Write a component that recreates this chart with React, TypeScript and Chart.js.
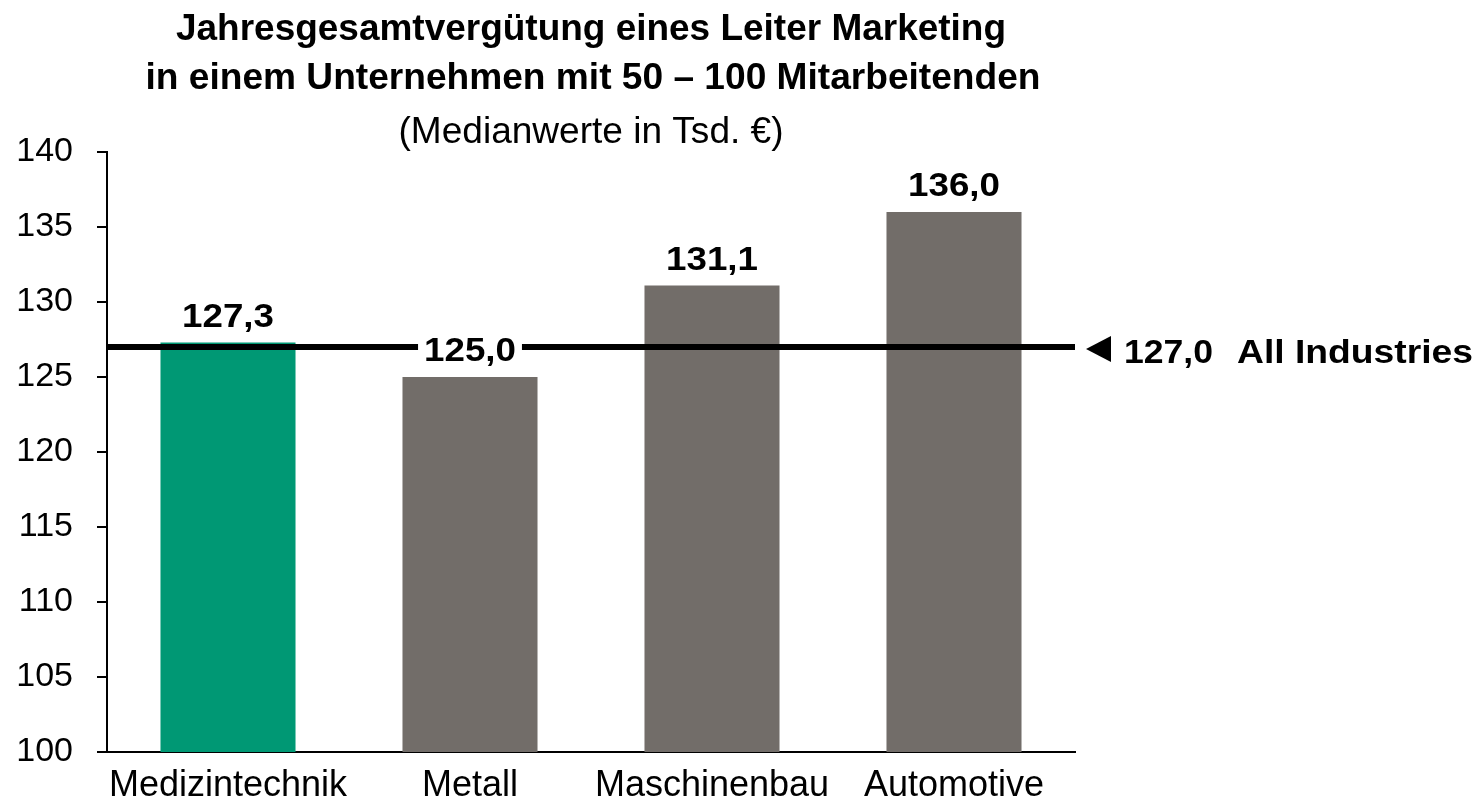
import React, { useEffect, useRef } from "react";
import { Chart, registerables } from "chart.js";

Chart.register(...registerables);

const categories = ["Medizintechnik", "Metall", "Maschinenbau", "Automotive"];
const values = [127.3, 125.0, 131.1, 136.0];
const valueLabels = ["127,3", "125,0", "131,1", "136,0"];
const barColors = ["#009874", "#726D69", "#726D69", "#726D69"];
const referenceValue = 127.0;
const referenceLabel = "127,0";
const referenceName = "All Industries";
const titleLines = [
  "Jahresgesamtvergütung eines Leiter Marketing",
  "in einem Unternehmen mit 50 – 100 Mitarbeitenden",
];
const subtitle = "(Medianwerte in Tsd. €)";
const yMin = 100;
const yMax = 140;
const yStep = 5;

const FONT = '"Liberation Sans", Arial, sans-serif';

function drawScaled(
  ctx: CanvasRenderingContext2D,
  text: string,
  x: number,
  y: number,
  align: "left" | "center" | "right",
  font: string,
  targetWidth: number | null,
  sxDefault = 1
) {
  ctx.save();
  ctx.font = font;
  const w = ctx.measureText(text).width;
  const sx = targetWidth ? targetWidth / w : sxDefault;
  const drawnW = w * sx;
  let left = x;
  if (align === "center") left = x - drawnW / 2;
  else if (align === "right") left = x - drawnW;
  ctx.translate(left, y);
  ctx.scale(sx, 1);
  ctx.textAlign = "left";
  ctx.textBaseline = "alphabetic";
  ctx.fillStyle = "#000";
  ctx.fillText(text, 0, 0);
  ctx.restore();
  return { left, width: drawnW };
}

const overlayPlugin = {
  id: "overlay",
  afterDatasetsDraw(chart: any) {
    const { ctx, chartArea, scales } = chart;
    const y = scales.y;
    const x = scales.x;
    const yRef = y.getPixelForValue(referenceValue);

    // reference line
    ctx.save();
    ctx.strokeStyle = "#000";
    ctx.lineWidth = 6;
    ctx.beginPath();
    ctx.moveTo(chartArea.left, yRef);
    ctx.lineTo(chartArea.right, yRef);
    ctx.stroke();
    ctx.restore();

    // value labels
    const labelFont = `bold 34px ${FONT}`;
    values.forEach((v, i) => {
      const cx = x.getPixelForValue(i);
      const top = y.getPixelForValue(v);
      const base = top - 16;
      ctx.save();
      ctx.font = labelFont;
      const w = ctx.measureText(valueLabels[i]).width * 1.08;
      ctx.fillStyle = "#fff";
      ctx.fillRect(cx - w / 2 - 6, base - 29, w + 12, 34);
      ctx.restore();
      drawScaled(ctx, valueLabels[i], cx, base, "center", labelFont, null, 1.08);
    });

    // right annotation
    const tipX = chartArea.right + 11;
    const cy = yRef + 2;
    ctx.save();
    ctx.fillStyle = "#000";
    ctx.beginPath();
    ctx.moveTo(tipX, cy);
    ctx.lineTo(tipX + 25, cy - 13);
    ctx.lineTo(tipX + 25, cy + 13);
    ctx.closePath();
    ctx.fill();
    ctx.restore();
    drawScaled(ctx, referenceLabel, tipX + 38, yRef + 16, "left", labelFont, 89);
    drawScaled(ctx, referenceName, tipX + 151, yRef + 16, "left", labelFont, 236);

    // titles
    const cxTitle = (chartArea.left + chartArea.right) / 2;
    drawScaled(ctx, titleLines[0], cxTitle, 40, "center", `bold 36px ${FONT}`, 830);
    drawScaled(ctx, titleLines[1], cxTitle + 2, 89, "center", `bold 36px ${FONT}`, 895);
    drawScaled(ctx, subtitle, cxTitle, 143, "center", `36px ${FONT}`, 385);
  },
};

export default function App() {
  const canvasRef = useRef<HTMLCanvasElement | null>(null);

  useEffect(() => {
    document.body.style.margin = "0";
    const canvas = canvasRef.current;
    if (!canvas) return;
    const chart = new Chart(canvas, {
      type: "bar",
      data: {
        labels: categories,
        datasets: [
          {
            data: values,
            backgroundColor: barColors,
            borderWidth: 0,
            barPercentage: 0.558,
            categoryPercentage: 1,
          },
        ],
      },
      options: {
        animation: false,
        responsive: true,
        maintainAspectRatio: false,
        devicePixelRatio: 1,
        layout: { padding: { top: 152, right: 403, left: 0, bottom: 0 } },
        plugins: {
          legend: { display: false },
          title: { display: false },
          tooltip: { enabled: false },
        },
        scales: {
          x: {
            grid: { display: false, drawOnChartArea: false, drawTicks: false },
            border: { display: true, color: "#000", width: 2 },
            ticks: {
              color: "#000",
              padding: 12,
              font: { family: FONT, size: 36 },
              maxRotation: 0,
              autoSkip: false,
            },
            afterFit(scale: any) {
              scale.height = 53;
            },
          },
          y: {
            min: yMin,
            max: yMax,
            grid: {
              drawOnChartArea: false,
              drawTicks: true,
              tickLength: 10,
              color: "#000",
              lineWidth: 2,
            },
            border: { display: true, color: "#000", width: 2 },
            ticks: {
              stepSize: yStep,
              color: "#000",
              padding: 24,
              font: { family: FONT, size: 34 },
            },
            afterFit(scale: any) {
              scale.width = 107;
            },
          },
        },
      },
      plugins: [overlayPlugin],
    });
    return () => chart.destroy();
  }, []);

  return (
    <div style={{ position: "fixed", left: 0, top: 0, width: 1478, height: 805, background: "#fff" }}>
      <canvas ref={canvasRef} />
    </div>
  );
}
